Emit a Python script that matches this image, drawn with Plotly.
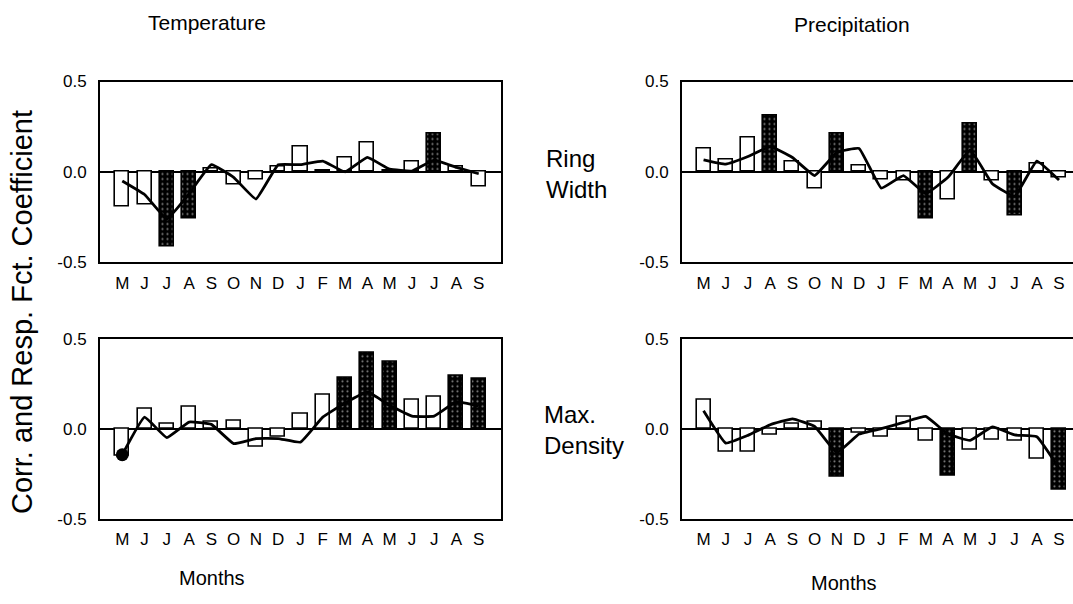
import plotly.graph_objects as go

# ---------------- data ----------------
months = ["M", "J", "J", "A", "S", "O", "N", "D", "J", "F", "M", "A", "M", "J", "J", "A", "S"]
y_tick_vals = [-0.5, 0.0, 0.5]
y_tick_labels = ["-0.5", "0.0", "0.5"]

# Temperature - Ring Width
temp_rw_bars = [-0.19, -0.18, -0.41, -0.26, 0.02, -0.07, -0.04, 0.03, 0.14, 0.01, 0.08, 0.16, 0.01, 0.06, 0.21, 0.03, -0.08]
temp_rw_sig = [0, 0, 1, 1, 0, 0, 0, 0, 0, 0, 0, 0, 0, 0, 1, 0, 0]
temp_rw_line = [-0.05, -0.125, -0.26, -0.12, 0.04, -0.03, -0.15, 0.04, 0.04, 0.06, 0.0, 0.08, 0.015, 0.005, 0.065, 0.025, -0.01]

# Precipitation - Ring Width
prec_rw_bars = [0.13, 0.07, 0.19, 0.31, 0.06, -0.09, 0.21, 0.035, -0.04, -0.045, -0.26, -0.15, 0.27, -0.045, -0.24, 0.045, -0.03]
prec_rw_sig = [0, 0, 0, 1, 0, 0, 1, 0, 0, 0, 1, 0, 1, 0, 1, 0, 0]
prec_rw_line = [0.067, 0.043, 0.085, 0.14, 0.08, -0.02, 0.107, 0.13, -0.09, -0.02, -0.12, -0.03, 0.12, -0.065, -0.135, 0.06, -0.045]

# Temperature - Max. Density
temp_md_bars = [-0.15, 0.11, 0.03, 0.12, 0.04, 0.045, -0.1, -0.045, 0.085, 0.19, 0.285, 0.42, 0.37, 0.16, 0.175, 0.295, 0.275]
temp_md_sig = [0, 0, 0, 0, 0, 0, 0, 0, 0, 0, 1, 1, 1, 0, 0, 1, 1]
temp_md_line = [-0.145, 0.064, -0.05, 0.037, 0.024, -0.083, -0.055, -0.055, -0.075, 0.064, 0.143, 0.205, 0.13, 0.07, 0.07, 0.15, 0.125]

# Precipitation - Max. Density
prec_md_bars = [0.16, -0.13, -0.13, -0.035, 0.03, 0.04, -0.27, -0.02, -0.045, 0.065, -0.065, -0.26, -0.115, -0.06, -0.065, -0.165, -0.34]
prec_md_sig = [0, 0, 0, 0, 0, 0, 1, 0, 0, 0, 0, 1, 0, 0, 0, 0, 1]
prec_md_line = [0.1, -0.08, -0.037, 0.022, 0.055, 0.013, -0.134, -0.03, 0.0, 0.035, 0.068, -0.03, -0.065, 0.01, -0.035, -0.045, -0.22]

FONT = "Liberation Sans, Arial, Helvetica, sans-serif"
W, H = 1073, 604

fig = go.Figure()

panels = [
    (temp_rw_bars, temp_rw_sig, temp_rw_line, "x", "y", False),
    (prec_rw_bars, prec_rw_sig, prec_rw_line, "x2", "y2", False),
    (temp_md_bars, temp_md_sig, temp_md_line, "x3", "y3", True),
    (prec_md_bars, prec_md_sig, prec_md_line, "x4", "y4", False),
]

xs = list(range(len(months)))
for bars, sig, line, xa, ya, dot in panels:
    colors = ["black" if s else "white" for s in sig]
    shapes = ["." if s else "" for s in sig]
    fig.add_trace(go.Bar(
        x=xs, y=bars, width=0.63, xaxis=xa, yaxis=ya,
        marker=dict(color=colors, line=dict(color="black", width=1.6),
                    pattern=dict(shape=shapes, fgcolor="#8a8a8a", size=5, solidity=0.15)),
        showlegend=False, hoverinfo="skip"))
    sizes = [13 if (dot and i == 0) else 0 for i in xs]
    fig.add_trace(go.Scatter(
        x=xs, y=line, xaxis=xa, yaxis=ya,
        mode="lines+markers" if dot else "lines",
        line=dict(color="black", width=2.8, shape="spline", smoothing=0.3),
        marker=dict(size=sizes, color="black", opacity=1, line=dict(width=0)),
        showlegend=False, hoverinfo="skip"))

# the rendered page is squeezed vertically (scale ~0.975, offset ~8px); compensate
SY, OY = 0.975, 8.0

def px_x(p):
    return p / W

def px_y(p):
    return 1 - ((p - OY) / SY) / H

left_dom = [px_x(100), px_x(501)]
right_dom = [px_x(682), 1.0]
top_dom = [px_y(263), px_y(81)]
bot_dom = [px_y(521), px_y(340)]

def xaxis(dom, rng, anchor, mirror=True):
    return dict(domain=dom, range=rng, anchor=anchor, tickmode="array", tickvals=xs, ticktext=months,
                showline=True, linecolor="black", linewidth=2, mirror=mirror, showgrid=False,
                zeroline=False, ticks="", tickfont=dict(family=FONT, size=17, color="black"),
                ticklabelstandoff=4, fixedrange=True)

def yaxis(dom, anchor, mirror=True):
    return dict(domain=dom, range=[-0.5, 0.5], anchor=anchor, tickmode="array", tickvals=y_tick_vals,
                ticktext=y_tick_labels, showline=True, linecolor="black", linewidth=2, mirror=mirror,
                showgrid=False, zeroline=True, zerolinecolor="black", zerolinewidth=2, ticks="",
                tickfont=dict(family=FONT, size=17, color="black"), ticklabelstandoff=8, fixedrange=True)

right_rng = [-0.97, (1073 - 703) / 22.25]

fig.update_layout(
    width=W, height=H, margin=dict(l=0, r=0, t=0, b=0),
    paper_bgcolor="white", plot_bgcolor="white",
    bargap=0, barmode="overlay",
    xaxis=xaxis(left_dom, [-1, 17], "y"),
    yaxis=yaxis(top_dom, "x"),
    xaxis2=xaxis(right_dom, right_rng, "y2"),
    yaxis2=yaxis(top_dom, "x2", mirror=False),
    xaxis3=xaxis(left_dom, [-1, 17], "y3"),
    yaxis3=yaxis(bot_dom, "x3"),
    xaxis4=xaxis(right_dom, right_rng, "y4"),
    yaxis4=yaxis(bot_dom, "x4", mirror=False),
)

def ann(text, x, y, size, xanchor="center", yanchor="middle", angle=0, align="center"):
    fig.add_annotation(text=text, x=px_x(x), y=px_y(y), xref="paper", yref="paper",
                       xanchor=xanchor, yanchor=yanchor, showarrow=False, textangle=angle,
                       align=align, font=dict(family=FONT, size=size, color="black"))

ann("Temperature", 207, 22, 21)
ann("Precipitation", 852, 24, 21)
ann("Ring<br>Width", 544, 174, 24, xanchor="left", align="left")
ann("Max.<br>Density", 542, 432, 24, xanchor="left", align="left")
ann("Months", 212, 581, 20)
ann("Months", 844, 586, 20)
ann("Corr. and Resp. Fct. Coefficient", 22, 313, 29, angle=-90)

fig.write_html(
    "out.html",
    config={"displayModeBar": False},
    post_script="document.body.style.margin='0';document.body.style.overflow='hidden';",
)
